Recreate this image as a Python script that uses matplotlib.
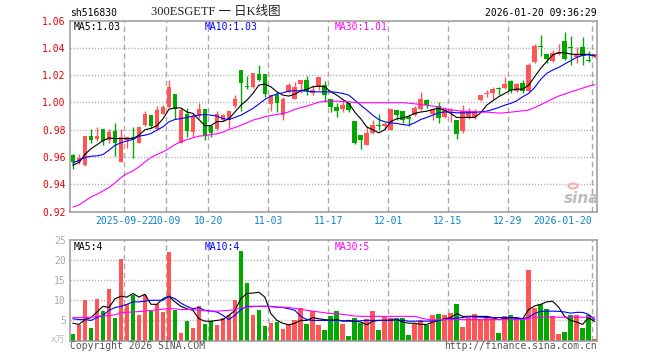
import matplotlib
matplotlib.use('Agg')
import matplotlib.pyplot as plt
import numpy as np
from matplotlib.patches import Circle

plt.rcParams['lines.scale_dashes'] = False

# ---------------- data ----------------
open_ = [0.9613,0.9565,0.954,0.9753,0.9733,0.9804,0.9726,0.979,0.9564,0.9723,
         0.9743,0.9704,0.9833,0.9907,0.9809,0.9919,0.9968,1.0061,0.9704,0.9919,
         0.9785,0.9907,0.9949,0.9826,0.9804,0.987,0.9875,0.9973,1.0238,1.0122,
         1.011,1.0208,1.0208,0.9988,1.0054,0.9907,1.0078,1.0029,1.0135,1.0164,
         1.0066,1.011,1.0127,1.0024,0.9968,0.9949,0.9998,0.9865,0.976,0.9691,
         0.9777,0.9836,0.9826,0.9801,0.9944,0.9936,0.989,0.9907,0.9951,1.0017,
         0.9919,0.9973,0.989,0.9936,0.987,0.9792,0.989,0.989,1.0017,1.0059,
         1.0066,1.0103,1.0103,1.0159,1.0086,1.014,1.0086,1.0299,1.0414,1.0355,
         1.0306,1.0355,1.0453,1.0409,1.0336,1.0409,1.031,1.034]
high = [0.962,0.962,0.9755,0.9804,0.982,0.9804,0.9804,0.985,0.9804,0.9743,
        0.982,0.9821,0.9939,0.9907,0.9975,0.998,1.0164,1.0061,0.996,0.996,
        0.9919,0.9998,0.9949,0.9826,0.9939,0.9919,0.9939,1.0054,1.0238,1.0196,
        1.0218,1.0274,1.0208,1.0054,1.0078,1.0042,1.0145,1.0152,1.0164,1.0196,
        1.0127,1.0184,1.0159,1.0024,0.9995,1.0012,0.9998,0.9865,0.976,0.9826,
        0.9875,0.9914,0.9858,0.9949,0.9944,0.9936,0.9907,0.9973,1.0078,1.0029,
        0.9963,1.0005,0.9968,0.9963,0.987,0.998,0.9956,0.9949,1.0054,1.0091,
        1.011,1.011,1.0189,1.0164,1.014,1.0164,1.029,1.0429,1.0495,1.0355,
        1.0385,1.0429,1.0519,1.0488,1.0409,1.0478,1.038,1.0355]
low = [0.951,0.955,0.9535,0.9699,0.972,0.969,0.9699,0.9605,0.956,0.9667,
       0.959,0.9699,0.9828,0.9816,0.9797,0.9914,0.9963,0.988,0.9699,0.9748,
       0.9748,0.9883,0.9728,0.9748,0.9797,0.9865,0.981,0.9963,0.9936,1.0096,
       1.0105,1.0159,1.0042,0.9936,0.9931,0.9875,1.0066,1.0024,1.0066,1.0054,
       1.0054,1.0091,1.0005,0.9931,0.989,0.9931,0.9931,0.9694,0.9657,0.9686,
       0.977,0.9797,0.9797,0.9797,0.9875,0.9846,0.9826,0.99,0.9944,0.9956,
       0.987,0.985,0.9883,0.9858,0.9735,0.9777,0.9882,0.9882,1.0012,1.0042,
       1.0029,1.0054,1.0096,1.0071,1.0078,1.0071,1.0078,1.0292,1.034,1.0287,
       1.0299,1.0348,1.0311,1.0274,1.0287,1.0274,1.0294,1.0326]
close = [0.9564,0.959,0.9753,0.9728,0.9753,0.9716,0.978,0.9699,0.9743,0.9743,
         0.973,0.9821,0.9919,0.9826,0.9944,0.9968,1.0115,0.9951,0.9944,0.9792,
         0.99,0.9949,0.9753,0.9777,0.9919,0.9907,0.9939,1.0029,1.0145,1.011,
         1.0213,1.0164,1.0061,1.0054,0.9998,1.0029,1.0127,1.011,1.0164,1.0086,
         1.0091,1.0184,1.0054,0.9968,0.9939,0.998,0.9944,0.9699,0.9723,0.9777,
         0.9833,0.9826,0.9841,0.9949,0.9907,0.987,0.9882,0.9963,1.0029,0.998,
         0.9944,0.9887,0.9944,0.9944,0.9772,0.9939,0.9939,0.9939,1.0054,1.0066,
         1.0096,1.0098,1.0135,1.0091,1.0135,1.0086,1.0274,1.0414,1.0409,1.0316,
         1.036,1.0372,1.0316,1.0402,1.0355,1.034,1.0306,1.0355]
volume = [1.5,3.75,10,3.1,10.25,7.25,12.75,5.5,20.25,9.2,
          11.25,6.25,11.25,7.25,9,7.1,22,7.5,1.75,4.8,
          3,8.7,4,4.8,3.75,5.5,6.4,10,22.25,14.3,
          6.25,7.5,3.5,4.3,4.6,2.8,4.2,5,8,4,
          7.25,3.75,2.5,6,7.25,4,1,5.5,4.4,5.25,
          7.25,2.5,5.8,5.7,5.7,5.5,1.25,4,5.2,3.75,
          6.25,6.5,6.25,6.75,9,3.25,6.2,6.5,5.2,5.7,
          5.7,1.75,6,6.25,5.7,5.7,17.5,8.2,9.2,7.75,
          6,1.5,2,6.25,6.25,3,6.25,0.25]
ma5 = [0.954,0.956,0.962,0.966,0.969,0.972,0.974,0.9735,0.9735,0.9735,
       0.9735,0.976,0.980,0.981,0.983,0.988,0.995,0.996,0.996,0.993,
       0.992,0.9875,0.983,0.983,0.986,0.986,0.988,0.993,0.998,1.0017,
       1.0066,1.0127,1.0135,1.0115,1.0078,1.0054,1.0047,1.0061,1.0086,1.0096,
       1.0115,1.012,1.0115,1.0078,1.0054,1.0022,0.9993,0.993,0.988,0.982,
       0.980,0.9777,0.980,0.986,0.988,0.9887,0.990,0.992,0.993,0.9936,
       0.9949,0.9956,0.9944,0.992,0.989,0.989,0.989,0.989,0.9924,0.998,
       1.0012,1.0042,1.0066,1.0091,1.0098,1.0098,1.0127,1.0189,1.025,1.030,
       1.0348,1.0365,1.0365,1.0355,1.0353,1.0353,1.0353,1.034]
ma10 = [0.9557,0.9576,0.9596,0.9606,0.9608,0.9618,0.965,0.9686,0.9704,0.9718,
        0.9728,0.9753,0.976,0.9772,0.9797,0.9821,0.9858,0.9875,0.9882,0.989,
        0.99,0.9907,0.9912,0.9907,0.99,0.9882,0.9875,0.989,0.9907,0.9931,
        0.9956,0.9988,1.0022,1.0047,1.0061,1.0071,1.0083,1.0086,1.0086,1.0083,
        1.0078,1.0078,1.0078,1.0078,1.0074,1.0066,1.0054,1.0017,0.998,0.9944,
        0.9907,0.9875,0.9858,0.9851,0.9846,0.9838,0.9833,0.9851,0.9875,0.989,
        0.9907,0.9924,0.9931,0.9929,0.9924,0.9924,0.9924,0.9927,0.9931,0.9936,
        0.9949,0.9963,0.998,0.9993,1.0012,1.0042,1.0066,1.011,1.0169,1.0213,
        1.0238,1.0257,1.0282,1.0306,1.0331,1.0345,1.035,1.0345]
ma30 = [0.9233,0.9248,0.9277,0.9307,0.9326,0.9351,0.9375,0.941,0.9449,0.9478,
        0.9498,0.9527,0.9564,0.9596,0.9618,0.9637,0.9662,0.9691,0.9711,0.9728,
        0.974,0.9753,0.9757,0.9765,0.977,0.9782,0.9802,0.9816,0.9833,0.9851,
        0.987,0.9882,0.9895,0.9904,0.9912,0.9919,0.9931,0.9949,0.9963,0.9973,
        0.9988,1.0002,1.001,1.001,1.001,1.0007,1.0005,1.0,0.9998,0.9998,
        0.9998,0.9998,0.9998,0.9998,0.9998,0.9998,0.9995,0.999,0.9985,0.998,
        0.9973,0.9968,0.9953,0.9946,0.9941,0.9936,0.9934,0.9931,0.9929,0.9929,
        0.9926,0.9922,0.9924,0.9929,0.9934,0.9939,0.9944,0.9963,0.9983,1.0005,
        1.0027,1.0047,1.0061,1.0078,1.0091,1.0105,1.012,1.013]
vol_ma5 = [4.3,4.0,5.2,5.7,7.1,8.5,8.2,10.4,11,10.8,
           11.7,10.8,11.5,9,9,10.4,11,9.6,8.5,7.9,
           7.5,5.4,4.8,4.8,5,5.2,6.25,7.5,10.4,11.7,
           11.8,12,10.8,6.7,5,4.3,3.9,4.3,5,5,
           5.7,5.4,5.2,5,5.2,4.8,5,4.8,4.6,3.9,
           4.8,5,5,5,5.2,4.6,4.3,4.3,4,4,
           4.6,5,5.4,5.7,6.7,6,6,6,6,6,
           5.7,5.2,5.5,5.7,5.7,5.4,7.7,8.6,9,9.6,
           9.75,8.3,6,5,4.6,4,5.7,4.75]
vol_ma10 = [5.4,5.2,5.2,5,5.7,6.25,7.5,8.2,8.5,9,
            9.6,9.6,9.8,10,10,10,11,10.4,9.3,8.5,
            7.9,8.2,7.5,7.3,7.1,6.25,5.2,6.25,7.7,8.5,
            8.5,8.5,8.5,8.5,8.3,8.2,7.9,7.5,6,5.2,
            5,5,5,5,5,4.9,4.8,4.8,4.9,5,
            5,5,5,5.1,5.2,5,4.8,4.8,4.8,4.8,
            4.9,5,5.25,5.4,5.6,5.7,6,5.9,5.8,5.75,
            5.7,5.7,5.7,5.7,5.5,5.4,5.8,6.7,7.25,7.3,
            7.3,7.25,7.1,6.8,7,7,6.5,5.2]
vol_ma30 = [5.7,5.7,5.7,5.8,6,6.1,6.2,6.4,6.9,7,
            7.1,7.2,7.3,7.5,7.6,7.8,7.9,7.9,7.7,7.7,
            7.7,7.5,7.4,7.3,7.3,7.4,7.5,7.7,8.1,8.3,
            8.4,8.5,8.5,8.4,8.3,8.3,8.2,8.0,7.8,7.5,
            7.3,7.1,6.9,6.7,6.7,6.5,6.3,6.1,6.0,6.0,
            6.0,6.0,6.0,6.0,6.0,6.0,6.0,6.0,5.6,5.3,
            5.1,5.2,5.2,5.2,5.2,5.2,5.2,5.2,5.2,5.2,
            5.2,5.2,5.2,5.2,5.2,5.2,5.4,5.8,5.8,5.8,
            5.8,5.8,5.8,5.8,5.8,5.8,5.8,5.8]
tick_idx = [9, 16, 23, 33, 43, 53, 63, 73, 87]
tick_labels = ['2025-09-22', '10-09', '10-20', '11-03', '11-17', '12-01', '12-15', '12-29', '2026-01-20']
price_ticks = [0.92, 0.94, 0.96, 0.98, 1.00, 1.02, 1.04, 1.06]
vol_ticks = [5, 10, 15, 20, 25]

# ---------------- style ----------------
W, H = 660, 360
RED = '#ff5555'
GREEN = '#00a800'
GRID = '#aaaaaa'
SPINE = '#999999'
MONO = 'DejaVu Sans Mono'
TICKBLUE = '#0a84cc'

fig = plt.figure(figsize=(W / 100, H / 100), dpi=100)
fig.patch.set_facecolor('white')

def fy(py):
    return 1 - py / H

ax = fig.add_axes([70 / W, fy(211.5), 527 / W, (211.5 - 20.7) / H])
axv = fig.add_axes([70 / W, fy(340.5), 527 / W, (340.5 - 240) / H])

n = len(close)
x = np.arange(n)
o = np.array(open_); c = np.array(close); h = np.array(high); l = np.array(low)
up = c >= o
cols = [RED if u else GREEN for u in up]

grid_x = np.array(tick_idx) - 0.45

for a in (ax, axv):
    a.set_xlim(-0.5, n - 0.6)
    for s in a.spines.values():
        s.set_color(SPINE)
        s.set_linewidth(1.1)
    a.tick_params(length=0)
    for gx in grid_x:
        a.axvline(gx, color=GRID, lw=1.0, ls=(0, (4, 2.5)), zorder=0)

# ---------------- price panel ----------------
ax.set_ylim(0.92, 1.06)
for yv in price_ticks[1:-1]:
    ax.axhline(yv, color=GRID, lw=1.0, ls=(0, (0.8, 1.4)), zorder=0)
ax.vlines(x, l, h, colors=cols, lw=1.0, zorder=2)
body = np.maximum(np.abs(c - o), 0.0004)
ax.bar(x, body, bottom=np.minimum(o, c), width=0.78, color=cols, linewidth=0, zorder=3)
ax.plot(x, ma5, color='black', lw=0.8, zorder=4)
ax.plot(x, ma10, color='#0000ff', lw=0.8, zorder=4)
ax.plot(x, ma30, color='#ff00ff', lw=0.8, zorder=4)

ax.set_yticks(price_ticks)
ax.set_yticklabels(['%.2f' % v for v in price_ticks], color='#ee0000', fontsize=7, family=MONO)
ax.tick_params(axis='y', pad=3)
ax.set_xticks(grid_x)
ax.set_xticklabels(tick_labels, color=TICKBLUE, fontsize=7, family=MONO)
ax.tick_params(axis='x', pad=3.5)
xt = ax.get_xticklabels()
xt[-1].set_horizontalalignment('right')

# ---------------- volume panel ----------------
axv.set_ylim(0, 25)
for yv in vol_ticks[:-1]:
    axv.axhline(yv, color=GRID, lw=1.0, ls=(0, (0.8, 1.4)), zorder=0)
axv.bar(x, volume, width=0.78, color=cols, linewidth=0, zorder=2)
axv.plot(x, vol_ma5, color='black', lw=0.8, zorder=4)
axv.plot(x, vol_ma10, color='#0000ff', lw=0.8, zorder=4)
axv.plot(x, vol_ma30, color='#ff00ff', lw=0.8, zorder=4)
axv.set_yticks(vol_ticks)
axv.set_yticklabels([str(v) for v in vol_ticks], color='#aaaaaa', fontsize=7, family=MONO)
axv.tick_params(axis='y', pad=3)
axv.set_xticks([])

# ---------------- texts ----------------
def ftext(px, py, s, **kw):
    fig.text(px / W, fy(py), s, va='center', **kw)

ftext(70, 13.5, 'sh516830', color='black', fontsize=7, family=MONO, ha='left')
ftext(216, 12, '300ESGETF 一 日K线图', color='#222222', fontsize=9,
      family=['Liberation Serif', 'Noto Sans CJK SC'], ha='center')
ftext(597, 13, '2026-01-20 09:36:29', color='black', fontsize=7, family=MONO, ha='right')

ftext(74, 26.5, 'MA5:1.03', color='black', fontsize=7, family=MONO, ha='left')
ftext(204.5, 26.5, 'MA10:1.03', color='#0000ff', fontsize=7, family=MONO, ha='left')
ftext(334.5, 26.5, 'MA30:1.01', color='#ff00ff', fontsize=7, family=MONO, ha='left')

ftext(74, 246.5, 'MA5:4', color='black', fontsize=7, family=MONO, ha='left')
ftext(204.5, 246.5, 'MA10:4', color='#0000ff', fontsize=7, family=MONO, ha='left')
ftext(334.5, 246.5, 'MA30:5', color='#ff00ff', fontsize=7, family=MONO, ha='left')

ftext(65, 340, 'x万', color='#bbbbbb', fontsize=6.5,
      family=['DejaVu Sans', 'Noto Sans CJK SC'], ha='right')
ftext(70, 346, 'Copyright 2026 SINA.COM', color='#555555', fontsize=7, family=MONO, ha='left')
ftext(597, 346, 'http://finance.sina.com.cn', color='#555555', fontsize=7, family=MONO, ha='right')

# sina watermark
ftext(582, 198, 'sina', color='#bdbdbd', fontsize=11, fontweight='bold', fontstyle='italic',
      family='DejaVu Sans', ha='center')
fig.patches.append(Circle((573 / W, fy(186)), 4.5 / W, transform=fig.transFigure,
                          facecolor='none', edgecolor='#f2b0b0', lw=1.5))

fig.savefig('out.png', dpi=100, facecolor='white')
